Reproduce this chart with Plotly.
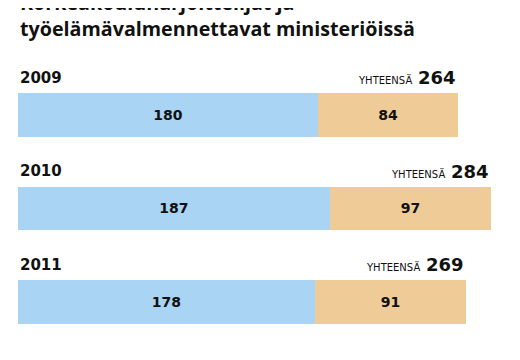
import plotly.graph_objects as go

years = ["2009", "2010", "2011"]
harjoittelijat = [180, 187, 178]
valmennettavat = [84, 97, 91]
totals = [264, 284, 269]
total_label = "YHTEENSÄ"
title_lines = ["Korkeakouluharjoittelijat ja", "työelämävalmennettavat ministeriöissä"]

blue = "#a9d4f3"
tan = "#efcb97"
ink = "#111111"
num_font = "DejaVu Sans"
title_font = "Open Sans"

pos = list(range(len(years)))

fig = go.Figure()
fig.add_trace(go.Bar(
    x=harjoittelijat, y=pos, orientation="h", marker=dict(color=blue, line=dict(width=0)),
    width=0.47, text=[str(v) for v in harjoittelijat], textposition="inside",
    insidetextanchor="middle", textfont=dict(family=num_font, size=14, color=ink, weight="bold"),
    hoverinfo="skip", showlegend=False))
fig.add_trace(go.Bar(
    x=valmennettavat, y=pos, orientation="h", marker=dict(color=tan, line=dict(width=0)),
    width=0.47, text=[str(v) for v in valmennettavat], textposition="inside",
    insidetextanchor="middle", textfont=dict(family=num_font, size=14, color=ink, weight="bold"),
    hoverinfo="skip", showlegend=False))

annotations = []
for p, yr, tot in zip(pos, years, totals):
    annotations.append(dict(
        x=0, y=p - 0.40, xref="x", yref="y", text=yr, showarrow=False,
        xanchor="left", yanchor="middle",
        font=dict(family=num_font, size=15, color=ink, weight="bold")))
    annotations.append(dict(
        x=tot, y=p - 0.40, xref="x", yref="y",
        text=f"<span style='font-size:10px;font-weight:normal'>{total_label}</span> <b>{tot}</b>",
        showarrow=False, xanchor="right", yanchor="middle",
        font=dict(family=num_font, size=18, color=ink)))

annotations.append(dict(
    x=0, y=1 - 36 / 360, xref="paper", yref="paper",
    text="<br>".join(title_lines), showarrow=False, align="left",
    xanchor="left", yanchor="bottom",
    font=dict(family=title_font, size=19.7, color=ink, weight="bold")))

fig.update_layout(
    barmode="stack",
    width=520, height=360,
    margin=dict(l=10, r=0, t=0, b=0),
    paper_bgcolor="white", plot_bgcolor="white",
    xaxis=dict(range=[0, 306], visible=False, fixedrange=True),
    yaxis=dict(range=[2.706, -1.144], visible=False, fixedrange=True),
    annotations=annotations,
    uniformtext=dict(mode=False),
)

fig.write_html("out.html", config={"displayModeBar": False})
